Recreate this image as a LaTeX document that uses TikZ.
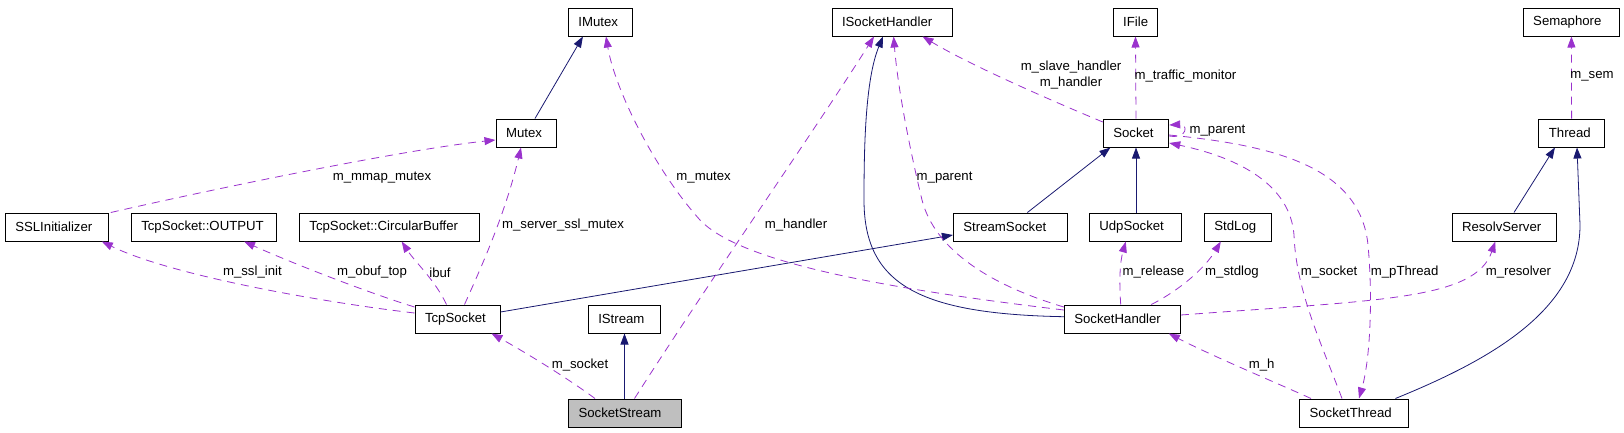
\documentclass[tikz,border=0pt]{standalone}
\usepackage{fontspec}
\setmainfont{Liberation Sans}
\usetikzlibrary{arrows.meta}
\definecolor{inhcol}{HTML}{191970}
\definecolor{usecol}{HTML}{9A32CD}
\definecolor{focus}{HTML}{BFBFBF}
\newcommand{\cbx}[2]{\makebox[#1pt][l]{#2}}
\begin{document}
\begin{tikzpicture}[x=1pt,y=-1pt,
  every node/.style={font=\fontsize{13.2}{16}\selectfont},
  cls/.style={draw=black,line width=1pt,minimum height=28pt,inner xsep=10pt,inner ysep=0pt,fill=white},
  inh/.style={draw=inhcol,line width=0.8pt,-{Triangle[length=11pt,width=8pt]}},
  use/.style={draw=usecol,line width=0.8pt,dash pattern=on 8pt off 6pt,-{Triangle[length=11pt,width=8pt]}},
  lbl/.style={inner sep=0pt}]
\useasboundingbox (0,0) rectangle (1624,432);
% nodes
\node[cls] (imutex) at (600.4,22) {\cbx{44}{IMutex}};
\node[cls] (ish) at (892,22) {\cbx{100}{ISocketHandler}};
\node[cls] (ifile) at (1135.5,22) {\cbx{24.6}{IFile}};
\node[cls] (sem) at (1571.4,22) {\cbx{76.4}{Semaphore}};
\node[cls] (mutex) at (526,133) {\cbx{40}{Mutex}};
\node[cls] (socket) at (1136,133) {\cbx{45.4}{Socket}};
\node[cls] (thread) at (1571.6,133) {\cbx{45.4}{Thread}};
\node[cls] (ssl) at (56.8,227) {\cbx{83}{SSLInitializer}};
\node[cls] (output) at (204,227) {\cbx{125.5}{TcpSocket::OUTPUT}};
\node[cls] (cbuf) at (389.4,227) {\cbx{160}{TcpSocket::CircularBuffer}};
\node[cls] (ssock) at (1010.4,227) {\cbx{94}{StreamSocket}};
\node[cls] (udp) at (1135.3,227) {\cbx{72}{UdpSocket}};
\node[cls] (stdlog) at (1237.8,227) {\cbx{46.8}{StdLog}};
\node[cls] (resolv) at (1504,227) {\cbx{84}{ResolvServer}};
\node[cls] (tcp) at (457.5,319) {\cbx{65}{TcpSocket}};
\node[cls] (istream) at (624.5,319) {\cbx{52.5}{IStream}};
\node[cls] (sh) at (1122.3,319) {\cbx{96}{SocketHandler}};
\node[cls,fill=focus] (sstream) at (625,413) {\cbx{93}{SocketStream}};
\node[cls] (sthread) at (1354,413) {\cbx{89}{SocketThread}};
% inheritance
\draw[inh] ([xshift=9pt]mutex.north) -- ([xshift=-17.5pt]imutex.south);
\draw[inh] ([xshift=17pt]ssock.north) -- ([xshift=-25.6pt]socket.south);
\draw[inh] (udp.north -| socket.south) -- (socket.south);
\draw[inh] ([yshift=7pt]tcp.east) -- ([yshift=-8pt]ssock.west);
\draw[inh] (sstream.north -| istream.south) -- (istream.south);
\draw[inh] ([yshift=2.3pt]sh.west) .. controls (920,314) and (864,285) .. (864,200)
  .. controls (864,150) and (865,80) .. ([xshift=-9pt]ish.south);
\draw[inh] ([xshift=10pt]resolv.north) -- ([xshift=-16.7pt]thread.south);
\draw[inh] ([xshift=-13.6pt]sthread.north east) .. controls (1490,360) and (1580,310) .. (1580,225)
  -- ([xshift=5.4pt]thread.south);
% usage
\draw[use] ([xshift=2pt]ssl.north east) .. controls (200,192) and (400,150) .. ([yshift=-7pt]mutex.west);
\node[lbl] (l1) at (382,178) {m\_mmap\_mutex};
\draw[use] ([xshift=7pt]tcp.north) .. controls (480,270) and (505,215) .. ([xshift=-5pt]mutex.south);
\node[lbl] (l2) at (563,225) {m\_server\_ssl\_mutex};
\draw[use] ([yshift=6pt]tcp.west) .. controls (320,302) and (170,275) .. ([xshift=45pt]ssl.south);
\node[lbl] (l3) at (252.4,272) {m\_ssl\_init};
\draw[use] ([yshift=12pt]tcp.west) .. controls (360,290) and (285,260) .. ([xshift=40pt]output.south);
\node[lbl] (l4) at (372,272) {m\_obuf\_top};
\draw[use] ([xshift=-11pt]tcp.north) .. controls (435,280) and (415,262) .. ([xshift=12.3pt]cbuf.south);
\node[lbl] (l5) at (440,272.5) {ibuf};
\draw[use] ([xshift=27pt]sstream.north west) .. controls (570,380) and (530,355) .. ([xshift=-9pt]tcp.south east);
\node[lbl] (l6) at (580,365) {m\_socket};
\draw[use] ([xshift=9.5pt]sstream.north) .. controls (710,280) and (815,130) .. ([xshift=-18pt]ish.south);
\node[lbl] (l7) at (796,225) {m\_handler};
\draw[use] ([yshift=9pt]sh.west) .. controls (880,288) and (740,262) .. (700,220)
  .. controls (655,170) and (615,90) .. ([xshift=5.6pt]imutex.south);
\node[lbl] (l8) at (703.6,178) {m\_mutex};
\draw[use] ([yshift=12pt]sh.west) .. controls (990,285) and (935,250) .. (922,200)
  .. controls (910,150) and (898,90) .. ([xshift=1.6pt]ish.south);
\node[lbl] (l9) at (944.6,178) {m\_parent};
\draw[use] ([yshift=11pt]socket.west) .. controls (1050,100) and (970,65) .. ([xshift=-30pt]ish.south east);
\node[lbl,align=center] (l10) at (1071,75) {m\_slave\_handler\\m\_handler};
\draw[use] (socket.north) -- (ifile.south);
\node[lbl] (l11) at (1185.4,76) {m\_traffic\_monitor};
\draw[use] (thread.north) -- (sem.south);
\node[lbl] (l12) at (1592,76) {m\_sem};
\draw[use] ([yshift=-3pt]socket.east) .. controls (1188,139) and (1188,124) .. ([yshift=8pt]socket.east);
\node[lbl] (l13) at (1217.5,131) {m\_parent};
\draw[use] ([xshift=-12pt]sthread.north) .. controls (1320,340) and (1296,290) .. (1294,235)
  .. controls (1290,185) and (1240,158) .. ([yshift=-10pt]socket.east);
\node[lbl] (l14) at (1329,272) {m\_socket};
\draw[use] ([yshift=-2pt]socket.east) .. controls (1270,145) and (1360,165) .. (1368,245)
  .. controls (1373,300) and (1370,360) .. ([xshift=5pt]sthread.north);
\node[lbl] (l15) at (1404.6,272) {m\_pThread};
\draw[use] ([xshift=12pt]sthread.north west) .. controls (1270,380) and (1210,355) .. ([xshift=-12pt]sh.south east);
\node[lbl] (l16) at (1261.7,365) {m\_h};
\draw[use] ([xshift=-1.6pt]sh.north) .. controls (1119,280) and (1120,262) .. ([xshift=-9.5pt]udp.south);
\node[lbl] (l17) at (1153.4,272) {m\_release};
\draw[use] ([xshift=29pt]sh.north) .. controls (1180,290) and (1205,268) .. ([xshift=-17pt]stdlog.south);
\node[lbl] (l18) at (1232,272) {m\_stdlog};
\draw[use] ([yshift=4pt]sh.east) .. controls (1380,300) and (1475,300) .. ([xshift=-8.7pt]resolv.south);
\node[lbl] (l19) at (1518.4,272) {m\_resolver};
\end{tikzpicture}
\end{document}
